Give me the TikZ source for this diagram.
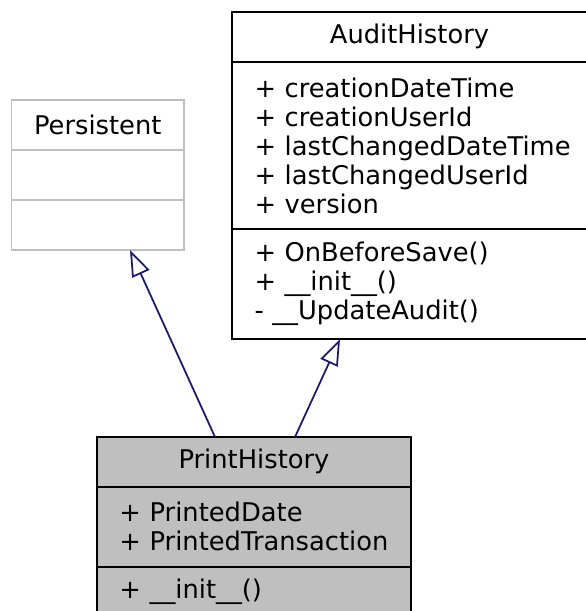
\documentclass[tikz,border=0pt]{standalone}
\usepackage{fontspec}
\setmainfont{DejaVu Sans}
\usetikzlibrary{positioning, arrows.meta}
\definecolor{edgeblue}{HTML}{191970}
\definecolor{hilite}{HTML}{BFBFBF}
\hyphenpenalty=10000

\begin{document}
\begin{tikzpicture}[
    node distance = 0pt,
    part/.style = {rectangle, draw, line width=0.8pt, outer sep=0pt, inner xsep=9pt, inner ysep=0pt, font=\fontsize{10.3}{11.6}\selectfont},
    head/.style = {part, align=center},
    body/.style = {part, align=left},
    faded/.style = {draw=hilite},
    focus/.style = {fill=hilite},
    inherit/.style = {-{Triangle[fill=white, length=10.5pt, width=7.5pt]}, draw=edgeblue, line width=0.7pt}
]
    \useasboundingbox (0,0) rectangle (234pt,-244.4pt);

    \node[head, faded, anchor=north west, text width=51pt, minimum height=20.2pt] (PER) at (4.6pt,-39.8pt) {Persistent};
    \node[body, faded, below=of PER, text width=51pt, minimum height=20pt] (PERA) {};
    \node[body, faded, below=of PERA, text width=51pt, minimum height=20pt] (PERO) {};

    \node[head, anchor=north west, text width=124pt, minimum height=20pt] (AUD) at (92.8pt,-4.7pt) {AuditHistory};
    \node[body, below=of AUD, text width=124pt, minimum height=67pt] (AUDA) {+~creationDateTime\\+~creationUserId\\+~lastChangedDateTime\\+~lastChangedUserId\\+~version};
    \node[body, below=of AUDA, text width=124pt, minimum height=43.9pt] (AUDO) {+~OnBeforeSave()\\+~\_\_init\_\_()\\-~\_\_UpdateAudit()};

    \node[head, focus, anchor=north west, text width=107.6pt, minimum height=19.9pt] (PH) at (38.8pt,-174.8pt) {PrintHistory};
    \node[body, focus, below=of PH, text width=107.6pt, minimum height=32.1pt] (PHA) {+~PrintedDate\\+~PrintedTransaction};
    \node[body, focus, below=of PHA, text width=107.6pt, minimum height=20pt] (PHO) {+~\_\_init\_\_()};

    \draw[inherit] ([xshift=-15.6pt]PH.north) -- ([xshift=12.9pt]PERO.south);
    \draw[inherit] ([xshift=16.4pt]PH.north) -- ([xshift=-27.8pt]AUDO.south);
\end{tikzpicture}
\end{document}
